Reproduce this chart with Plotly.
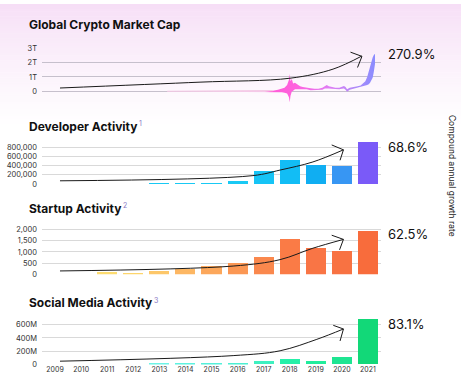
import plotly.graph_objects as go

W, H = 461, 387
FONT = "Inter"

# ---------------- data ----------------
years = list(range(2009, 2022))
year_labels = [str(y) for y in years]

# Global crypto market cap (trillion USD) - upper / lower edge of the daily band
mc_time = [2013.3, 2014.0, 2015.0, 2016.0, 2017.0, 2017.35, 2017.55, 2017.7, 2017.8, 2017.9,
           2017.97, 2018.0, 2018.03, 2018.08, 2018.13, 2018.2, 2018.3, 2018.4, 2018.5, 2018.65,
           2018.8, 2018.95, 2019.1, 2019.25, 2019.35, 2019.42, 2019.5, 2019.6, 2019.75, 2019.9,
           2020.0, 2020.08, 2020.14, 2020.2, 2020.3, 2020.45, 2020.6, 2020.72, 2020.82, 2020.9,
           2020.97, 2021.03, 2021.08, 2021.13, 2021.18, 2021.22, 2021.27]
mc_high = [0.01, 0.012, 0.008, 0.01, 0.02, 0.05, 0.12, 0.2, 0.25, 0.45,
           0.8, 1.2, 0.7, 0.85, 0.55, 0.6, 0.45, 0.35, 0.3, 0.28,
           0.22, 0.18, 0.18, 0.25, 0.35, 0.45, 0.35, 0.3, 0.26, 0.25,
           0.3, 0.38, 0.3, 0.15, 0.25, 0.28, 0.35, 0.4, 0.55, 0.7,
           1.0, 1.4, 1.8, 2.1, 2.35, 2.5, 2.6]
mc_low = [0.0, 0.0, 0.0, 0.0, 0.0, 0.0, -0.02, -0.05, -0.1, -0.15,
          -0.4, -0.75, -0.3, 0.0, 0.05, 0.15, 0.15, 0.15, 0.12, 0.15,
          0.08, 0.08, 0.1, 0.12, 0.2, 0.22, 0.2, 0.18, 0.16, 0.15,
          0.18, 0.2, 0.12, -0.02, 0.12, 0.18, 0.25, 0.3, 0.35, 0.4,
          0.45, 0.5, 0.6, 0.75, 0.95, 1.3, 1.9]

dev_values = [None, None, None, None, 20000, 30000, 30000, 70000, 290000, 530000, 410000, 390000, 920000]
startup_values = [None, None, 105, 100, 175, 280, 380, 510, 775, 1620, 1200, 1080, 1945]
social_values = [None, None, None, None, 10, 15, 15, 15, 50, 88, 55, 118, 680]  # millions

dev_colors = ["#19c9f4"] * 8 + ["#16c4f6", "#12bdf5", "#10aef2", "#3796f3", "#7a5af8"]
startup_colors = ["#fddc70", "#fddc70", "#fddc70", "#fdd56c", "#fdc769", "#fdb763", "#fca75b",
                  "#fb9754", "#fa884d", "#fa7b46", "#f97545", "#f87242", "#f86c3c"]
social_colors = ["#70f3e8"] * 4 + ["#6ef3e6", "#5ef2e0", "#55f0da", "#4cefd2", "#3ef0c0",
                                   "#26f0a8", "#22ec9c", "#1ee592", "#12d878"]

titles = ["Global Crypto Market Cap", "Developer Activity", "Startup Activity", "Social Media Activity"]
footnotes = ["", "1", "2", "3"]
cagr_labels = ["270.9%", "68.6%", "62.5%", "83.1%"]

mc_ticks = [0, 1, 2, 3]
mc_ticktext = ["0", "1T", "2T", "3T"]
dev_ticks = [0, 200000, 400000, 600000, 800000]
dev_ticktext = ["0", "200,000", "400,000", "600,000", "800,000"]
startup_ticks = [0, 500, 1000, 1500, 2000]
startup_ticktext = ["0", "500", "1,000", "1,500", "2,000"]
social_ticks = [0, 200, 400, 600]
social_ticktext = ["0", "200M", "400M", "600M"]

# decorative growth arrows (year, value) per panel
arrow1_x = [2009.19, 2014.56, 2018.01, 2019.66, 2020.76]
arrow1_y = [0.236, 0.64, 0.91, 1.54, 2.44]
arrow1_head_x = [2020.33, 2020.77, 2020.60]
arrow1_head_y = [2.71, 2.42, 1.65]
arrow2_x = [2009.19, 2016.59, 2017.63, 2018.89, 2020.06]
arrow2_y = [70000, 183000, 304000, 481000, 745000]
arrow2_head_x = [2019.61, 2020.06, 2019.93]
arrow2_head_y = [851000, 745000, 517000]
arrow3_x = [2009.19, 2015.83, 2017.63, 2018.89, 2020.06]
arrow3_y = [149, 368, 656, 1168, 1562]
arrow3_head_x = [2019.61, 2020.06, 2019.91]
arrow3_head_y = [1750, 1562, 1094]
arrow4_x = [2009.19, 2015.83, 2017.63, 2019.04, 2020.06]
arrow4_y = [49, 133, 206, 379, 535]
arrow4_head_x = [2019.67, 2020.06, 2019.93]
arrow4_head_y = [590, 535, 354]

# ---------------- layout geometry (pixels) ----------------
X_LEFT, X_RIGHT = 42, 381
# (zero pixel, pixels per unit, range)
panels = [
    (89.5, 14.83, [-0.9, 3.0]),
    (184.3, 47.0 / 1e6, [0, 960000]),
    (276.7, 22.85 / 1000, [0, 2050]),
    (369.0, 67.8 / 1000, [0, 700]),
]
grid_colors = ["#c6c0cc", "#d9d9d9", "#d9d9d9", "#d9d9d9"]

fig = go.Figure()

# market cap band
fig.add_trace(go.Scatter(x=mc_time, y=mc_low, mode="lines", line=dict(width=0),
                         showlegend=False, hoverinfo="skip", xaxis="x", yaxis="y"))
fig.add_trace(go.Scatter(
    x=mc_time, y=mc_high, mode="lines", line=dict(width=0), fill="tonexty",
    fillgradient=dict(type="horizontal", start=2013.3, stop=2021.27,
                      colorscale=[[0, "#f4d8ec"], [0.47, "#f6c8ea"], [0.5, "#ff5cd8"],
                                  [0.62, "#ff62de"], [0.78, "#df7cf4"], [0.9, "#b28af8"],
                                  [1, "#8a8cff"]]),
    showlegend=False, hoverinfo="skip", xaxis="x", yaxis="y"))
fig.add_trace(go.Scatter(x=mc_time[:6], y=mc_high[:6], mode="lines",
                         line=dict(width=1.2, color="#f3c8e4"),
                         showlegend=False, hoverinfo="skip", xaxis="x", yaxis="y"))

# bars
for vals, cols, ax in [(dev_values, dev_colors, "2"), (startup_values, startup_colors, "3"),
                       (social_values, social_colors, "4")]:
    fig.add_trace(go.Bar(x=years, y=vals, marker=dict(color=cols, line=dict(width=0)),
                         width=0.77, showlegend=False, hoverinfo="skip",
                         xaxis="x" + ax, yaxis="y" + ax))

# arrows
arrows = [(arrow1_x, arrow1_y, arrow1_head_x, arrow1_head_y, ""),
          (arrow2_x, arrow2_y, arrow2_head_x, arrow2_head_y, "2"),
          (arrow3_x, arrow3_y, arrow3_head_x, arrow3_head_y, "3"),
          (arrow4_x, arrow4_y, arrow4_head_x, arrow4_head_y, "4")]
for ax_, ay_, hx, hy, a in arrows:
    fig.add_trace(go.Scatter(x=ax_, y=ay_, mode="lines", line=dict(color="#1a1a1a", width=1, shape="spline"),
                             showlegend=False, hoverinfo="skip", xaxis="x" + a, yaxis="y" + a))
    fig.add_trace(go.Scatter(x=hx, y=hy, mode="lines", line=dict(color="#1a1a1a", width=1),
                             showlegend=False, hoverinfo="skip", xaxis="x" + a, yaxis="y" + a))

layout = dict(
    width=W, height=H, margin=dict(l=0, r=0, t=0, b=0),
    paper_bgcolor="white", plot_bgcolor="rgba(0,0,0,0)",
    font=dict(family=FONT, color="#222"), hovermode=False, bargap=0,
)

ytick_sets = [(mc_ticks, mc_ticktext), (dev_ticks, dev_ticktext),
              (startup_ticks, startup_ticktext), (social_ticks, social_ticktext)]
for i, (zero_px, ppu, rng) in enumerate(panels):
    suffix = "" if i == 0 else str(i + 1)
    top_px = zero_px - (rng[1]) * ppu
    bot_px = zero_px - (rng[0]) * ppu
    xa = dict(domain=[X_LEFT / W, X_RIGHT / W], range=[2008.5, 2021.5], showgrid=False,
              zeroline=False, showline=False, ticks="", anchor="y" + suffix,
              showticklabels=(i == 3))
    if i == 3:
        xa.update(tickvals=years, ticktext=year_labels, tickfont=dict(size=7, color="#333"))
    ya = dict(domain=[1 - bot_px / H, 1 - top_px / H], range=rng, showgrid=True,
              gridcolor=grid_colors[i], gridwidth=1, zeroline=False, showline=False, ticks="",
              tickvals=ytick_sets[i][0], ticktext=ytick_sets[i][1], ticklabelstandoff=4,
              tickfont=dict(size=7.5, color="#333"), anchor="x" + suffix)
    layout["xaxis" + suffix] = xa
    layout["yaxis" + suffix] = ya

fig.update_layout(**layout)

# background gradient (pink-lavender top fading to white)
top_rgb = (246, 222, 246)
n_band = 50
band_h = 125 / n_band
for k in range(n_band):
    t = (k / (n_band - 1)) ** 0.8
    c = tuple(int(round(top_rgb[j] + (255 - top_rgb[j]) * t)) for j in range(3))
    y0 = k * band_h
    fig.add_shape(type="rect", xref="paper", yref="paper", x0=0, x1=1,
                  y0=1 - (y0 + band_h + 0.5) / H, y1=1 - y0 / H,
                  fillcolor="rgb(%d,%d,%d)" % c, line=dict(width=0), layer="below")

# titles
title_y = [21, 125, 209.5, 306]
for t, yy in zip(titles, title_y):
    fig.add_annotation(text="<b>%s</b>" % t, x=28 / W, y=1 - yy / H, xref="paper", yref="paper",
                       xanchor="left", yanchor="middle", showarrow=False, borderpad=0,
                       font=dict(size=12, color="#111", family=FONT))

# footnote markers
foot_x = [0, 138, 122, 153]
foot_y = [0, 122.5, 206.5, 303.5]
for fn, fx, fy in zip(footnotes, foot_x, foot_y):
    if fn:
        fig.add_annotation(text=fn, x=fx / W, y=1 - fy / H, xref="paper", yref="paper",
                           xanchor="left", yanchor="middle", showarrow=False, borderpad=0,
                           font=dict(size=7, color="#8a78c4", family=FONT))

# CAGR labels
cagr_y = [51, 146, 235.5, 327.5]
for lab, yy in zip(cagr_labels, cagr_y):
    fig.add_annotation(text=lab, x=386 / W, y=1 - yy / H, xref="paper", yref="paper",
                       xanchor="left", yanchor="middle", showarrow=False,
                       font=dict(size=13, color="#111", family=FONT))

fig.add_annotation(text="Compound annual growth rate", x=452 / W, y=1 - 176 / H,
                   xref="paper", yref="paper", textangle=90, showarrow=False,
                   xanchor="center", yanchor="middle",
                   font=dict(size=8.5, color="#1a1a1a", family=FONT))

fig.write_html("out.html", config={"displayModeBar": False},
               post_script="document.body.style.margin='0px';")
